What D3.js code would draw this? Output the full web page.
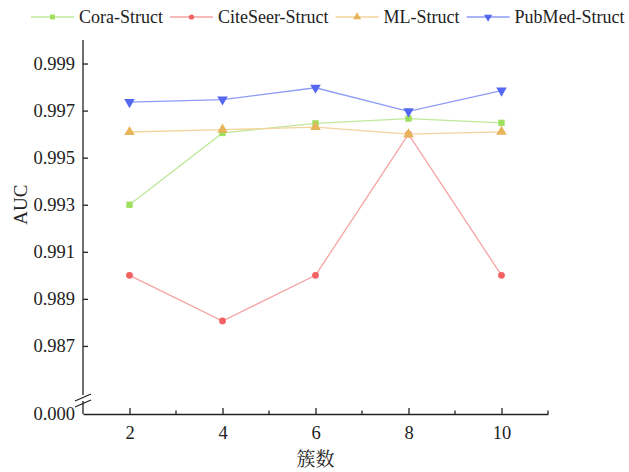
<!DOCTYPE html>
<html><head><meta charset="utf-8">
<script src="https://cdn.jsdelivr.net/npm/d3@7"></script>
<style>body{margin:0;background:#fff}svg{display:block}</style>
</head><body><svg id="c" width="629" height="472"></svg>
<script>
const xValues = [2, 4, 6, 8, 10];
const seriesNames = ["Cora-Struct", "CiteSeer-Struct", "ML-Struct", "PubMed-Struct"];
const coraValues = [0.9930, 0.99605, 0.99646, 0.99666, 0.99648];
const citeseerValues = [0.9900, 0.98806, 0.9900, 0.9960, 0.9900];
const mlValues = [0.99609, 0.99619, 0.9963, 0.9960, 0.9961];
const pubmedValues = [0.99736, 0.99747, 0.99797, 0.99697, 0.99785];
const yTicks = [0.987, 0.989, 0.991, 0.993, 0.995, 0.997, 0.999];
const xTicks = [2, 4, 6, 8, 10];
const xMinorTicks = [3, 5, 7, 9, 11];
const lowerTick = [0.000];

const markerColors = ["#9ee05e", "#f26262", "#e8b45a", "#5467f2"];
const lineColors = ["#bfe99a", "#f5a3a3", "#f3d49c", "#8d9bf4"];
const symbols = [d3.symbolSquare, d3.symbolCircle, d3.symbolTriangle, d3.symbolTriangle];
const symSizes = [40, 36, 48, 48];
const allValues = [coraValues, citeseerValues, mlValues, pubmedValues];

const svg = d3.select("#c");
const font = "'Liberation Serif','Times New Roman',serif";
const L = 83, R = 548, T = 40, B = 414;
const x = d3.scaleLinear().domain([1, 11]).range([L, R]);
const y = d3.scaleLinear().domain([0.985, 1.000]).range([393, T]);
const yLow = d3.scaleLinear().domain([0, 0.001]).range([B, 401]);

const gy = svg.append("g").attr("transform", `translate(${L},0)`)
  .call(d3.axisLeft(y).tickValues(yTicks).tickFormat(d3.format(".3f")).tickSizeInner(-5).tickSizeOuter(0).tickPadding(8));
gy.select(".domain").attr("d", `M0,${T}V395`);
const gyl = svg.append("g").attr("transform", `translate(${L},0)`)
  .call(d3.axisLeft(yLow).tickValues(lowerTick).tickFormat(d3.format(".3f")).tickSizeInner(0).tickSizeOuter(0).tickPadding(8));
gyl.select(".domain").attr("d", `M0,401V${B}`);
[gy, gyl].forEach(g => {
  g.selectAll("text").attr("font-family", font).attr("font-size", 18.5).attr("fill", "#222");
  g.selectAll("line,path").attr("stroke", "#222").attr("stroke-width", 1.3);
});
svg.append("line").attr("x1", L - 8).attr("y1", 401).attr("x2", L + 8).attr("y2", 394).attr("stroke", "#222").attr("stroke-width", 1.3);
svg.append("line").attr("x1", L - 8).attr("y1", 407).attr("x2", L + 8).attr("y2", 400).attr("stroke", "#222").attr("stroke-width", 1.3);

const gx = svg.append("g").attr("transform", `translate(0,${B})`)
  .call(d3.axisBottom(x).tickValues(xTicks).tickFormat(d3.format("d")).tickSizeInner(-6).tickSizeOuter(0).tickPadding(12));
gx.selectAll("text").attr("font-family", font).attr("font-size", 18.5).attr("fill", "#222");
gx.selectAll("line,path").attr("stroke", "#222").attr("stroke-width", 1.3);
svg.append("g").selectAll("line").data(xMinorTicks).join("line")
  .attr("x1", d => x(d)).attr("x2", d => x(d)).attr("y1", B).attr("y2", B - 3.5)
  .attr("stroke", "#222").attr("stroke-width", 1.3);

svg.append("text").attr("x", x(6)).attr("y", 466).attr("text-anchor", "middle")
  .attr("font-family", "'Noto Serif CJK SC','Noto Sans CJK SC',serif").attr("font-size", 19).attr("fill", "#222").text("簇数");
svg.append("text").attr("transform", `translate(27,${(y(0.9925)+y(0.9935))/2}) rotate(-90)`).attr("text-anchor", "middle")
  .attr("font-family", font).attr("font-size", 19).attr("fill", "#222").text("AUC");

const line = d3.line().x((d, i) => x(xValues[i])).y(d => y(d));
allValues.forEach((vals, s) => {
  svg.append("path").datum(vals).attr("d", line).attr("fill", "none")
    .attr("stroke", lineColors[s]).attr("stroke-width", 1.3);
});
allValues.forEach((vals, s) => {
  svg.append("g").selectAll("path").data(vals).join("path")
    .attr("d", d3.symbol().type(symbols[s]).size(symSizes[s]))
    .attr("transform", (d, i) => `translate(${x(xValues[i])},${y(d)})${s === 3 ? " rotate(180)" : ""}`)
    .attr("fill", markerColors[s]);
});

let lx = 31;
const ly = 17;
seriesNames.forEach((name, s) => {
  const g = svg.append("g");
  g.append("line").attr("x1", lx).attr("x2", lx + 43).attr("y1", ly).attr("y2", ly)
    .attr("stroke", lineColors[s]).attr("stroke-width", 1.3);
  g.append("path").attr("d", d3.symbol().type(symbols[s]).size(symSizes[s] * 0.6))
    .attr("transform", `translate(${lx + 21.5},${ly})${s === 3 ? " rotate(180)" : ""}`)
    .attr("fill", markerColors[s]);
  const t = g.append("text").attr("x", lx + 48).attr("y", ly).attr("dy", "0.35em")
    .attr("font-family", font).attr("font-size", 18).attr("fill", "#222").text(name);
  lx += 48 + t.node().getComputedTextLength() + 7;
});
</script></body></html>
